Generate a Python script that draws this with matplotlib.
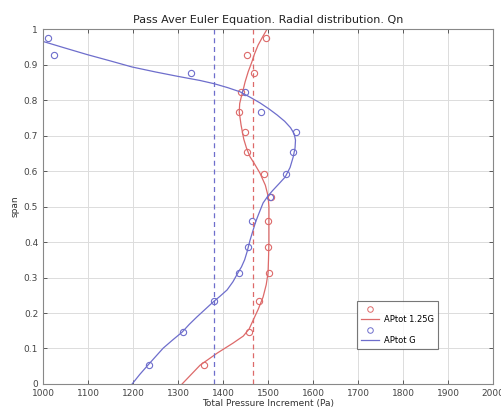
import numpy as np
import matplotlib
matplotlib.use("Agg")
import matplotlib.pyplot as plt
from matplotlib.lines import Line2D

# measured points
span_pts = [0.975, 0.927, 0.876, 0.823, 0.766, 0.71, 0.654, 0.592, 0.527,
            0.459, 0.386, 0.313, 0.234, 0.147, 0.053]
dp_125g = [1496, 1453, 1469, 1440, 1435, 1449, 1453, 1491, 1506,
           1500, 1500, 1502, 1480, 1458, 1357]
dp_g = [1010, 1024, 1329, 1449, 1484, 1562, 1555, 1540, 1504,
        1464, 1456, 1436, 1380, 1310, 1236]

# fitted curves
fit_125g_dp = [1309, 1349, 1387, 1422, 1445, 1458, 1467, 1478, 1489, 1496,
               1500, 1501, 1502, 1502, 1502, 1500, 1494, 1482, 1470, 1460,
               1452, 1446, 1440, 1436, 1437, 1440, 1445, 1449, 1456, 1464,
               1470, 1478, 1488, 1498]
fit_125g_span = [0.0, 0.053, 0.087, 0.115, 0.135, 0.155, 0.18, 0.21, 0.245,
                 0.28, 0.313, 0.35, 0.4, 0.45, 0.499, 0.53, 0.56, 0.594, 0.62,
                 0.64, 0.665, 0.69, 0.73, 0.766, 0.79, 0.806, 0.83, 0.851,
                 0.88, 0.907, 0.93, 0.955, 0.978, 1.0]
fit_g_dp = [1198, 1215, 1233, 1250, 1267, 1288, 1309, 1325, 1342, 1360,
            1378, 1394, 1409, 1422, 1433, 1441, 1448, 1454, 1460, 1466,
            1472, 1478, 1489, 1500, 1511, 1525, 1538, 1549, 1556, 1560,
            1561, 1558, 1550, 1537, 1520, 1502, 1482, 1460, 1438, 1410,
            1380, 1349, 1298, 1250, 1198, 1150, 1098, 1050, 1000]
fit_g_span = [0.0, 0.027, 0.053, 0.077, 0.101, 0.124, 0.146, 0.168, 0.189,
              0.21, 0.231, 0.248, 0.265, 0.288, 0.313, 0.33, 0.35, 0.375,
              0.405, 0.43, 0.455, 0.475, 0.51, 0.53, 0.546, 0.565, 0.583,
              0.61, 0.64, 0.665, 0.687, 0.705, 0.722, 0.74, 0.758, 0.775,
              0.792, 0.808, 0.823, 0.835, 0.846, 0.855, 0.867, 0.879, 0.893,
              0.91, 0.928, 0.946, 0.965]

mean_125g = 1466
mean_g = 1381

red = "#dd6a6a"
blue = "#6e6ecc"

fig = plt.figure(figsize=(5.02, 4.11), dpi=100)
ax = fig.add_axes([0.0857, 0.0657, 0.8965, 0.8637])

ax.plot(dp_125g, span_pts, "o", mfc="none", mec=red, ms=4.5, mew=0.8)
ax.plot(fit_125g_dp, fit_125g_span, "-", color=red, lw=0.9)
ax.plot(dp_g, span_pts, "o", mfc="none", mec=blue, ms=4.5, mew=0.8)
ax.plot(fit_g_dp, fit_g_span, "-", color=blue, lw=0.9)
ax.axvline(mean_g, color=blue, lw=0.9, ls=(0, (4, 3)))
ax.axvline(mean_125g, color=red, lw=0.9, ls=(0, (4, 3)))

ax.set_xlim(1000, 2000)
ax.set_ylim(0, 1)
ax.set_xticks(np.arange(1000, 2001, 100))
ax.set_yticks(np.arange(0, 1.01, 0.1))
ax.set_yticklabels(["0", "0.1", "0.2", "0.3", "0.4", "0.5", "0.6", "0.7",
                    "0.8", "0.9", "1"])
ax.grid(True, color="#dcdcdc", lw=0.7)
ax.set_axisbelow(True)
ax.tick_params(direction="in", length=3, labelsize=6.5, colors="#444444",
               top=True, right=True, width=0.6)
for s in ax.spines.values():
    s.set_color("#888888")
    s.set_linewidth(0.8)

ax.set_title("Pass Aver Euler Equation. Radial distribution. Qn",
             fontsize=8, color="#222222", pad=4)
ax.set_xlabel("Total Pressure Increment (Pa)", fontsize=6.5, color="#333333",
              labelpad=1)
ax.set_ylabel("span", fontsize=6.5, color="#333333", labelpad=3)

handles = [
    Line2D([], [], marker="o", ls="none", mfc="none", mec=red, ms=4, mew=0.7),
    Line2D([], [], color=red, lw=0.9),
    Line2D([], [], marker="o", ls="none", mfc="none", mec=blue, ms=4, mew=0.7),
    Line2D([], [], color=blue, lw=0.9),
]
labels = ["", "APtot 1.25G", "", "APtot G"]
leg = ax.legend(handles, labels, loc="lower left",
                bbox_to_anchor=(0.688, 0.087), fontsize=6,
                frameon=True, fancybox=False, handlelength=2.2,
                labelspacing=0.15, borderpad=0.5, handletextpad=0.6)
leg.get_frame().set_edgecolor("#555555")
leg.get_frame().set_linewidth(0.8)

fig.savefig("out.png", dpi=100)
